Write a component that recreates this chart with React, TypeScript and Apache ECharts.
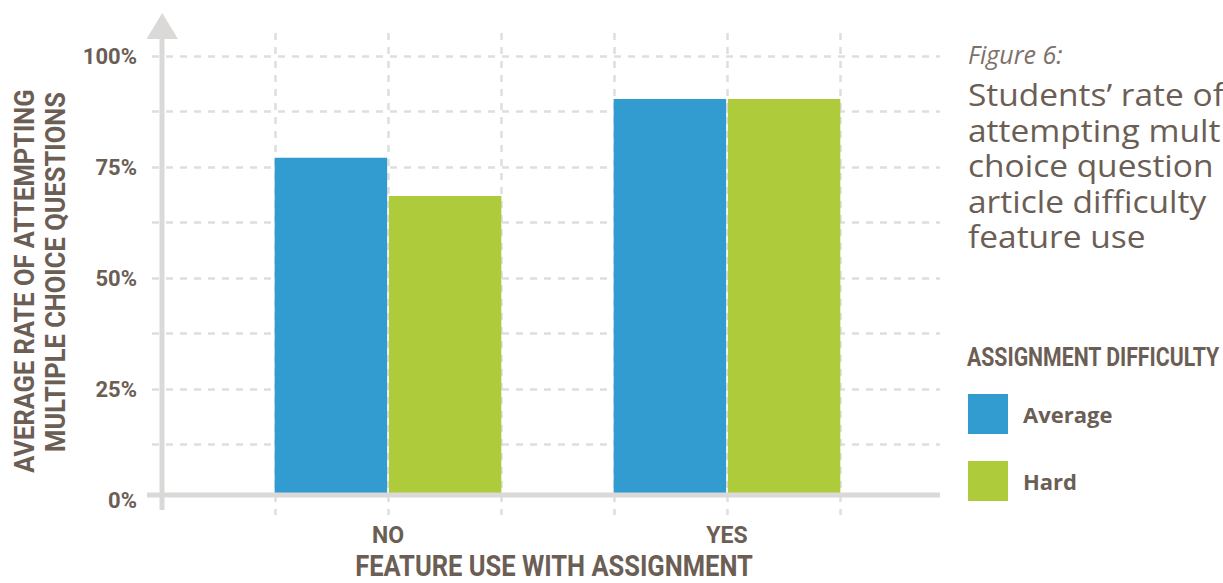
import React, { useEffect, useRef } from "react";
import * as echarts from "echarts";

const categories = ["NO", "YES"];
const averageValues = [76.8, 90.2];
const hardValues = [68.1, 90.2];
const yTicks = [0, 25, 50, 75, 100];
const seriesNames = ["Average", "Hard"];
const figureLabel = "Figure 6:";
const titleLines = ["Students\u2019 rate of", "attempting mult", "choice question", "article difficulty", "feature use"];
const legendTitle = "ASSIGNMENT DIFFICULTY";
const xAxisTitle = "FEATURE USE WITH ASSIGNMENT";
const yAxisTitleLines = ["AVERAGE RATE OF ATTEMPTING", "MULTIPLE CHOICE QUESTIONS"];

const BROWN = "#6b5e55";
const AXIS_GRAY = "#dad9d7";
const GRID_GRAY = "#dedede";
const COND = "Roboto, 'Noto Sans', sans-serif";
const BODY = "'Open Sans', 'Noto Sans', sans-serif";

export default function App() {
  const ref = useRef<HTMLDivElement>(null);
  useEffect(() => {
    if (!ref.current) return;
    const chart = echarts.init(ref.current, null, { renderer: "svg" });

    const condText = (text: string, x: number, y: number, size: number, sx: number, align: string, rot = 0) => ({
      type: "text",
      z: 100,
      x,
      y,
      rotation: rot,
      scaleX: sx,
      style: {
        text,
        fontFamily: COND,
        fontWeight: "bold",
        fontSize: size,
        lineHeight: size,
        fill: BROWN,
        align,
        verticalAlign: "middle",
      },
    });

    const option: any = {
      animation: false,
      backgroundColor: "#ffffff",
      legend: {
        data: seriesNames,
        orient: "vertical",
        left: 968,
        top: 394,
        padding: 0,
        itemWidth: 40,
        itemHeight: 40,
        itemGap: 27,
        icon: "rect",
        textStyle: { fontFamily: BODY, fontWeight: "bold", fontSize: 22, color: BROWN, padding: [0, 0, 0, 10] },
      },
      grid: [
        { left: 218.5, width: 678, top: 56, height: 439 },
        { left: 162, width: 678, top: 33, height: 482 },
        { left: 152, width: 788, top: 56, height: 444 },
      ],
      xAxis: [
        {
          type: "category",
          gridIndex: 0,
          data: categories,
          axisLine: { show: false },
          axisTick: { show: false },
          axisLabel: { margin: 29, fontFamily: COND, fontWeight: "bold", fontSize: 23, color: BROWN },
        },
        {
          type: "value",
          gridIndex: 1,
          min: 0,
          max: 6,
          interval: 1,
          axisLine: { show: false },
          axisTick: { show: false },
          axisLabel: { show: false },
          splitLine: { show: true, showMinLine: false, lineStyle: { color: GRID_GRAY, width: 2.5, type: [7, 7] } },
        },
        { type: "value", gridIndex: 2, min: 0, max: 1, show: false },
      ],
      yAxis: [
        { type: "value", gridIndex: 0, min: 0, max: 100, show: false },
        { type: "value", gridIndex: 1, min: 0, max: 1, show: false },
        {
          type: "value",
          gridIndex: 2,
          min: 0,
          max: 100,
          interval: 12.5,
          axisLine: { show: false },
          axisTick: { show: false },
          axisLabel: {
            margin: 15,
            fontFamily: COND,
            fontWeight: "bold",
            fontSize: 22,
            color: BROWN,
            formatter: (v: number) => (yTicks.indexOf(v) >= 0 ? v + "%" : ""),
          },
          splitLine: { show: true, showMinLine: false, lineStyle: { color: GRID_GRAY, width: 2.5, type: [7, 7] } },
        },
      ],
      series: [
        {
          name: seriesNames[0],
          type: "bar",
          xAxisIndex: 0,
          yAxisIndex: 0,
          data: averageValues,
          barWidth: 112.5,
          barGap: "1.5%",
          itemStyle: { color: "#329bd0" },
        },
        {
          name: seriesNames[1],
          type: "bar",
          xAxisIndex: 0,
          yAxisIndex: 0,
          data: hardValues,
          barWidth: 112.5,
          barGap: "1.5%",
          itemStyle: { color: "#adcb3b" },
        },
      ],
      graphic: [
        { type: "line", z: 100, shape: { x1: 162, y1: 38, x2: 162, y2: 510 }, style: { stroke: AXIS_GRAY, lineWidth: 5 } },
        { type: "line", z: 100, shape: { x1: 147, y1: 495, x2: 940, y2: 495 }, style: { stroke: AXIS_GRAY, lineWidth: 5 } },
        { type: "polygon", z: 100, shape: { points: [[146.5, 39], [178, 39], [162.2, 13]] }, style: { fill: AXIS_GRAY } },
        condText(yAxisTitleLines[0], 25, 281, 28, 0.91, "center", Math.PI / 2),
        condText(yAxisTitleLines[1], 56, 272, 28, 0.91, "center", Math.PI / 2),
        condText(xAxisTitle, 554, 566, 30, 0.85, "center"),
        condText(legendTitle, 967, 357.5, 25, 0.85, "left"),
        {
          type: "text",
          z: 100,
          x: 968,
          y: 54,
          style: { text: figureLabel, fontFamily: BODY, fontStyle: "italic", fontSize: 25, fill: "#7d716a", align: "left", verticalAlign: "middle" },
        },
        ...titleLines.map((t, i) => ({
          type: "text",
          z: 100,
          x: 968,
          y: 94 + i * 35.5,
          scaleX: 1.08,
          style: { text: t, fontFamily: BODY, fontSize: 31, fill: BROWN, align: "left", verticalAlign: "middle" },
        })),
      ],
    };
    chart.setOption(option);
    return () => chart.dispose();
  }, []);
  return (
    <div
      ref={ref}
      style={{ position: "fixed", left: 0, top: 0, width: 1223, height: 583, overflow: "hidden" }}
    />
  );
}
